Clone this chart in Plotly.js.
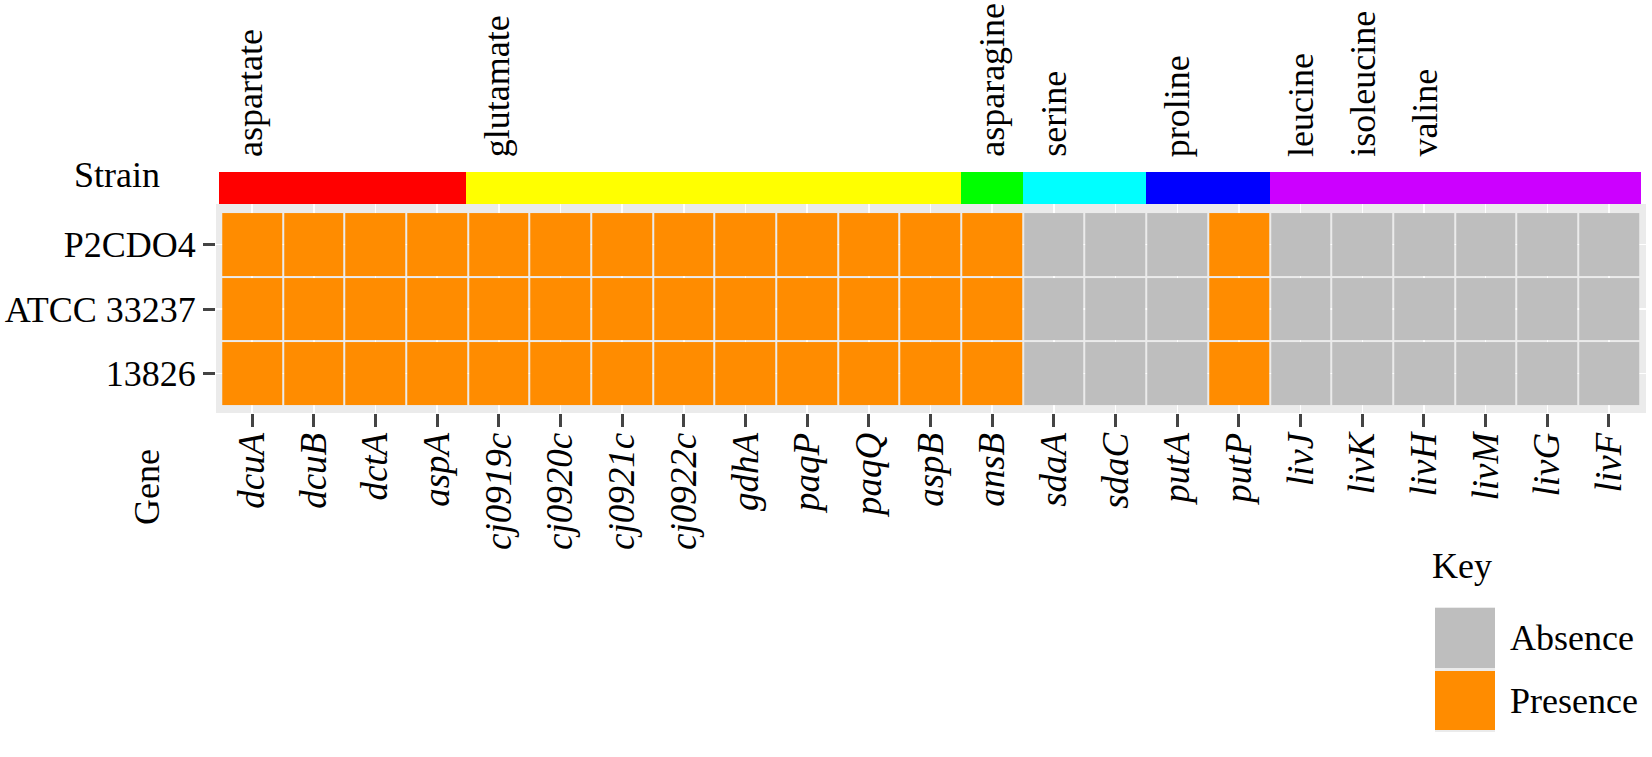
<!DOCTYPE html>
<html>
<head>
<meta charset="utf-8">
<script src="https://cdn.plot.ly/plotly-3.0.1.min.js"></script>
<style>
  body { margin: 0; background: #fff; }
  #chart { width: 1652px; height: 757px; }
</style>
</head>
<body>
<div id="chart"></div>
<script>
// genes along the x axis
var genes = ['dcuA', 'dcuB', 'dctA', 'aspA',
  'cj0919c', 'cj0920c', 'cj0921c', 'cj0922c', 'gdhA', 'paqP', 'paqQ', 'aspB',
  'ansB', 'sdaA', 'sdaC', 'putA', 'putP',
  'livJ', 'livK', 'livH', 'livM', 'livG', 'livF'];

// amino acid groups over the gene columns
var groupLabels = [['aspartate'], ['glutamate'], ['asparagine'], ['serine'], ['proline'],
  ['leucine', 'isoleucine', 'valine']];
var groupSizes = [4, 8, 1, 2, 2, 6];
var groupColours = ['#FF0000', '#FFFF00', '#00FF00', '#00FFFF', '#0000FF', '#CC00FF'];

// strains (top to bottom) and presence (1) / absence (0) per gene
var strains = ['P2CDO4', 'ATCC 33237', '13826'];
var p2cdo4    = [1,1,1,1, 1,1,1,1,1,1,1,1, 1, 0,0, 0,1, 0,0,0,0,0,0];
var atcc33237 = [1,1,1,1, 1,1,1,1,1,1,1,1, 1, 0,0, 0,1, 0,0,0,0,0,0];
var s13826    = [1,1,1,1, 1,1,1,1,1,1,1,1, 1, 0,0, 0,1, 0,0,0,0,0,0];

var keyLabels = ['Absence', 'Presence'];
var keyColours = ['#BEBEBE', '#FF8C00'];

var W = 1652, H = 757;
function px(x) { return x / W; }
function py(y) { return 1 - y / H; }
var serif = 'Liberation Serif, Times New Roman, serif';

// group index per gene for the colour strip
var groupIndex = [];
groupSizes.forEach(function(n, g) { for (var i = 0; i < n; i++) groupIndex.push(g); });

var groupScale = [];
groupColours.forEach(function(c, g) {
  groupScale.push([g / groupColours.length, c]);
  groupScale.push([(g + 1) / groupColours.length, c]);
});
var keyScale = [[0, keyColours[0]], [0.5, keyColours[0]], [0.5, keyColours[1]], [1, keyColours[1]]];

var tiles = {
  type: 'heatmap', x: genes, y: strains,
  z: [p2cdo4, atcc33237, s13826],
  zmin: 0, zmax: 1, colorscale: keyScale, showscale: false,
  xgap: 2, ygap: 2, hoverinfo: 'x+y'
};

var strip = {
  type: 'heatmap', x: genes, y: ['Strain'], z: [groupIndex],
  xaxis: 'x2', yaxis: 'y2',
  zmin: -0.5, zmax: groupColours.length - 0.5, colorscale: groupScale, showscale: false,
  hoverinfo: 'x'
};

var key = {
  type: 'heatmap', x: ['key'], y: keyLabels, z: [[0], [1]],
  xaxis: 'x3', yaxis: 'y3',
  zmin: 0, zmax: 1, colorscale: keyScale, showscale: false,
  ygap: 3, hoverinfo: 'y'
};

var annotations = [];
var start = 0;
groupLabels.forEach(function(labels, g) {
  labels.forEach(function(lab, i) {
    annotations.push({
      text: lab, xref: 'x2', yref: 'paper', x: genes[start + i], y: py(159),
      xanchor: 'center', yanchor: 'bottom', textangle: -90, showarrow: false,
      font: {family: serif, size: 36, color: '#000'}
    });
  });
  start += groupSizes[g];
});
annotations.push({text: 'Strain', xref: 'paper', yref: 'paper', x: px(117), y: py(175),
  xanchor: 'center', yanchor: 'middle', showarrow: false,
  font: {family: serif, size: 36, color: '#000'}});
annotations.push({text: 'Gene', xref: 'paper', yref: 'paper', x: px(147), y: py(487),
  xanchor: 'center', yanchor: 'middle', textangle: -90, showarrow: false,
  font: {family: serif, size: 36, color: '#000'}});
annotations.push({text: 'Key', xref: 'paper', yref: 'paper', x: px(1430), y: py(566),
  xanchor: 'left', yanchor: 'middle', showarrow: false,
  font: {family: serif, size: 36, color: '#000'}});
keyLabels.forEach(function(lab) {
  annotations.push({text: lab, xref: 'paper', yref: 'y3', x: px(1508), y: lab,
    xanchor: 'left', yanchor: 'middle', showarrow: false,
    font: {family: serif, size: 36, color: '#000'}});
});

var layout = {
  width: W, height: H,
  margin: {l: 0, r: 0, t: 0, b: 0},
  paper_bgcolor: '#FFFFFF', plot_bgcolor: '#EBEBEB',
  showlegend: false,
  xaxis: {
    domain: [px(216), px(1646)], range: [-0.585, 22.6],
    type: 'category', categoryorder: 'array', categoryarray: genes,
    showgrid: true, gridcolor: '#FFFFFF', gridwidth: 1.5, zeroline: false, showline: false,
    ticks: 'outside', ticklen: 13, tickwidth: 3, tickcolor: '#444',
    tickangle: -90, ticklabelstandoff: -9,
    tickfont: {family: serif, size: 37, color: '#000', style: 'italic'}
  },
  yaxis: {
    domain: [py(413), py(204)], range: [2.608, -0.624],
    type: 'category', categoryorder: 'array', categoryarray: strains,
    showgrid: true, gridcolor: '#FFFFFF', gridwidth: 1.5, zeroline: false, showline: false,
    ticks: 'outside', ticklen: 12, tickwidth: 3, tickcolor: '#444',
    tickfont: {family: serif, size: 36, color: '#000'}
  },
  xaxis2: {
    domain: [px(219), px(1641)], range: [-0.5, 22.5], anchor: 'y2',
    type: 'category', categoryorder: 'array', categoryarray: genes, visible: false
  },
  yaxis2: {
    domain: [py(204), py(172)], range: [-0.5, 0.5], anchor: 'x2',
    type: 'category', visible: false
  },
  xaxis3: {
    domain: [px(1435), px(1495)], range: [-0.5, 0.5], anchor: 'y3',
    type: 'category', visible: false
  },
  yaxis3: {
    domain: [py(732), py(607)], range: [1.5, -0.5], anchor: 'x3',
    type: 'category', categoryorder: 'array', categoryarray: keyLabels, visible: false
  },
  annotations: annotations
};

Plotly.newPlot('chart', [tiles, strip, key], layout, {displayModeBar: false, staticPlot: true});
</script>
</body>
</html>
